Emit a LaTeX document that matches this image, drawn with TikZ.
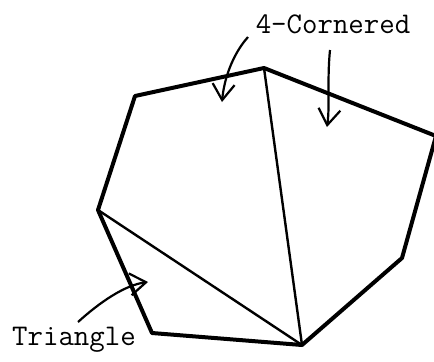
\documentclass[tikz,border=0pt]{standalone}
\usepackage{tikz}
\usetikzlibrary{arrows.meta}

\begin{document}
\begin{tikzpicture}[x=0.5pt,y=-0.5pt,
  rim/.style={line width=2pt,line join=round},
  cut/.style={line width=1.2pt},
  pointer/.style={line width=1.1pt,-{Straight Barb[length=8pt,width=11pt,line width=1.1pt]}},
  tag/.style={font=\ttfamily\fontsize{15}{18}\selectfont,inner sep=0pt}]
  \useasboundingbox (0,0) rectangle (434,361);
  % corners of the polygon
  \coordinate (top) at (264,68);
  \coordinate (upleft) at (135,96);
  \coordinate (left) at (98,210);
  \coordinate (lowleft) at (152,333);
  \coordinate (bottom) at (302,345);
  \coordinate (lowright) at (402,258);
  \coordinate (right) at (436,136);
  \draw[rim](top)--(upleft)--(left)--(lowleft)--(bottom)--(lowright)--(right)--cycle;
  \draw[cut](left)--(bottom);
  \draw[cut](top)--(bottom);
  % labels and their arrows
  \node[tag] (quadlabel) at (333,24){4-Cornered};
  \node[tag] (trilabel) at (74,340){Triangle};
  \coordinate (qstartA) at (248,37);
  \coordinate (qtipA) at (222,102);
  \coordinate (qstartB) at (330,50);
  \coordinate (qtipB) at (327,127);
  \coordinate (tstart) at (78,322);
  \coordinate (ttip) at (148,282);
  \draw[pointer](qstartA) .. controls (232,55) and (224,80) .. (qtipA);
  \draw[pointer](qstartB) .. controls (327,80) and (330,105) .. (qtipB);
  \draw[pointer](tstart) .. controls (100,302) and (125,285) .. (ttip);
\end{tikzpicture}
\end{document}
